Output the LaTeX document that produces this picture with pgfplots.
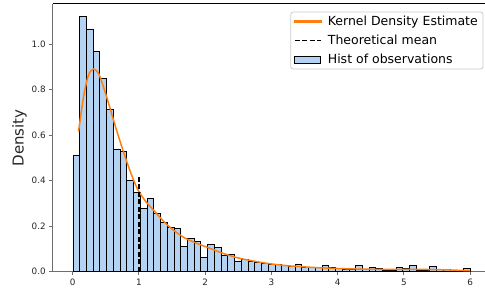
\documentclass[border=0pt]{standalone}
\usepackage{fontspec}
\setmainfont{DejaVu Sans}
\usepackage{pgfplots}
\pgfplotsset{compat=1.18}
\definecolor{kdecol}{RGB}{255,127,14}
\definecolor{barfill}{RGB}{180,211,242}
\definecolor{spine}{RGB}{110,110,110}
\definecolor{txt}{RGB}{38,38,38}
\definecolor{legedge}{RGB}{204,204,204}
\pgfplotsset{
  leglinecode/.style={legend image code/.code={\path[draw=none,fill=none] (-1pt,0pt) rectangle (31pt,0pt); \draw[sharp corners,##1] (0pt,0pt) -- (26pt,0pt);}},
  legkdecode/.style={legend image code/.code={\path[draw=none,fill=none] (-1pt,0pt) rectangle (31pt,0pt); \fill[kdecol] (0pt,-0.75pt) rectangle (26pt,0.75pt);}},
  legboxcode/.style={legend image code/.code={\path[draw=none,fill=none] (-1pt,0pt) rectangle (31pt,0pt); \draw[sharp corners,##1] (0pt,-3.5pt) rectangle (26pt,3.5pt);}},
}
\begin{document}
\begin{tikzpicture}
\begin{axis}[
  scale only axis, width=432.3pt, height=267.7pt,
  xmin=-0.3, xmax=6.225, ymin=0, ymax=1.1757,
  axis x line*=bottom, axis y line*=left,
  axis line style={spine, line width=1.1pt, -},
  clip=false,
  xtick={0,1,2,3,4,5,6},
  ytick={0,0.2,0.4,0.6,0.8,1.0},
  y tick label style={/pgf/number format/.cd, fixed, fixed zerofill, precision=1},
  tick align=outside, major tick length=3.5pt,
  tick style={spine, line width=0.9pt},
  ticklabel style={font=\fontsize{8.8}{10}\selectfont, text=txt},
  /pgf/number format/assume math mode=true,
  ylabel={Density},
  ylabel style={font=\fontsize{15}{18}\selectfont, text=txt, at={(axis description cs:-0.0594,0.5)}, anchor=south, inner sep=0pt},
  legend style={name=leg, at={(axis description cs:0.9954,0.970)}, anchor=north east,
    draw=none, fill=white,
    font=\fontsize{12.5}{15}\selectfont, inner xsep=3pt, inner ysep=1.75pt, row sep=4pt,
    nodes={inner sep=2pt}},
  legend cell align=left,
]
\addplot[ybar interval, fill=barfill, draw=black, line width=0.8pt, forget plot] coordinates {
(0.0060,0.511) (0.1076,1.120) (0.2092,1.066) (0.3108,0.966) (0.4124,0.849)
(0.5140,0.713) (0.6156,0.539) (0.7172,0.527) (0.8188,0.401) (0.9204,0.349)
(1.0220,0.278) (1.1236,0.322) (1.2252,0.256) (1.3268,0.217) (1.4284,0.195)
(1.5300,0.190) (1.6316,0.110) (1.7332,0.147) (1.8348,0.132) (1.9364,0.063)
(2.0380,0.119) (2.1396,0.107) (2.2412,0.072) (2.3428,0.078) (2.4444,0.047)
(2.5460,0.052) (2.6476,0.044) (2.7492,0.040) (2.8508,0.036) (2.9524,0.034)
(3.0540,0.031) (3.1556,0.028) (3.2572,0.024) (3.3588,0.034) (3.4604,0.019)
(3.5620,0.018) (3.6636,0.019) (3.7652,0.028) (3.8668,0.018) (3.9684,0.014)
(4.0700,0.011) (4.1716,0.010) (4.2732,0.027) (4.3748,0.010) (4.4764,0.020)
(4.5780,0.013) (4.6796,0.007) (4.7812,0.007) (4.8828,0.018) (4.9844,0.013)
(5.0860,0.026) (5.1876,0.007) (5.2892,0.007) (5.3908,0.022) (5.4924,0.010)
(5.5940,0.011) (5.6956,0.007) (5.7972,0.004) (5.8988,0.014) (6.0004,0)
};
\addplot[color=kdecol, line width=1.5pt, smooth, legkdecode] coordinates {
(0.09,0.615) (0.166,0.769) (0.241,0.864) (0.317,0.890) (0.392,0.871) (0.468,0.810)
(0.543,0.740) (0.618,0.666) (0.694,0.593) (0.769,0.527) (0.845,0.461) (0.920,0.403)
(0.995,0.355) (1.10,0.310) (1.22,0.271) (1.33,0.235) (1.45,0.200) (1.58,0.170)
(1.70,0.147) (1.83,0.130) (1.95,0.116) (2.08,0.102) (2.20,0.088) (2.33,0.075)
(2.45,0.064) (2.60,0.054) (2.80,0.043) (3.0,0.034) (3.25,0.026) (3.5,0.021)
(3.75,0.017) (4.0,0.014) (4.25,0.012) (4.5,0.011) (4.75,0.010) (5.0,0.010)
(5.25,0.010) (5.5,0.009) (5.75,0.007) (6.0,0.004)
};
\addplot[color=black, line width=1.8pt, dash pattern=on 5pt off 2.5pt, leglinecode] coordinates {(1,0) (1,0.415)};
\addlegendimage{draw=black, line width=0.8pt, fill=barfill, legboxcode}
\draw[black, line width=1pt] (rel axis cs:0,1) -- (rel axis cs:1,1);
\legend{Kernel Density Estimate, Theoretical mean, Hist of observations}
\end{axis}
\draw[legedge, line width=0.8pt, rounded corners=2.5pt] (leg.south west) rectangle (leg.north east);
\pgfresetboundingbox
\path[use as bounding box] (-52.7pt,-19.3pt) rectangle (432.3pt,271.7pt);
\end{tikzpicture}
\end{document}
